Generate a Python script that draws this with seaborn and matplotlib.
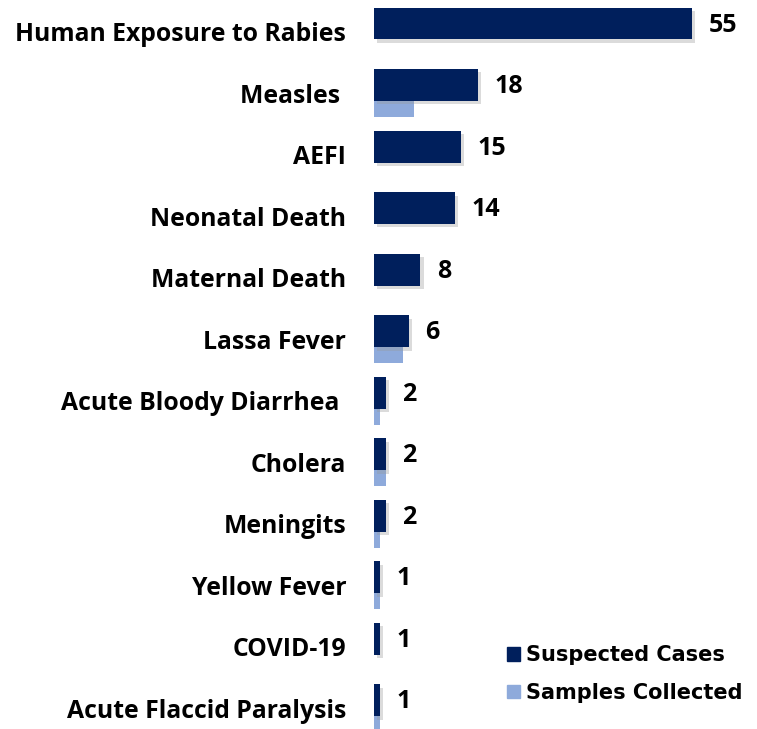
import numpy as np
import pandas as pd
import seaborn as sns
import matplotlib.pyplot as plt
import matplotlib.patheffects as pe
from matplotlib.patches import Patch

diseases = ["Human Exposure to Rabies", "Measles ", "AEFI", "Neonatal Death",
            "Maternal Death", "Lassa Fever", "Acute Bloody Diarrhea ", "Cholera",
            "Meningits", "Yellow Fever", "COVID-19", "Acute Flaccid Paralysis"]
suspected = [55, 18, 15, 14, 8, 6, 2, 2, 2, 1, 1, 1]
samples = [0, 7, 0, 0, 0, 5, 1, 2, 1, 1, 0, 1]

dark = "#001f5c"
light = "#8eaadb"

sns.set_theme(style="white")
plt.rcParams['font.family'] = ['Open Sans', 'DejaVu Sans']
plt.rcParams['font.weight'] = 'bold'
plt.rcParams['text.color'] = 'black'

pos = np.arange(len(diseases))
df = pd.DataFrame({"disease": diseases, "pos": pos,
                   "suspected": suspected, "samples": samples})

fig = plt.figure(figsize=(7.57, 7.29), dpi=100)
ax = fig.add_axes([0.494, 0, 0.506, 1])

# light series sits half a bar lower, dark series drawn on top
sns.barplot(data=df.assign(p=df["pos"] + 0.13), x="samples", y="p", orient="h",
            native_scale=True, color=light, width=0.52, linewidth=0,
            saturation=1, ax=ax, zorder=2)
n_light = len(ax.patches)
sns.barplot(data=df.assign(p=df["pos"] - 0.13), x="suspected", y="p", orient="h",
            native_scale=True, color=dark, width=0.52, linewidth=0,
            saturation=1, ax=ax, zorder=3)

for bar in ax.patches[n_light:]:
    if bar.get_width() > 0:
        bar.set_path_effects([pe.SimplePatchShadow(offset=(2.5, -2.5), shadow_rgbFace="#999999", alpha=0.35),
                              pe.Normal()])

for v, p in zip(suspected, pos):
    ax.text(v + 2.9, p - 0.1, str(v), va="center", ha="left",
            fontsize=18, fontweight="bold", color="black")

ax.set_yticks(pos, diseases, fontweight="bold", color="black", fontsize=17.8)
ax.tick_params(axis="y", length=0, pad=20)
ax.set_xticks([])
ax.set_xlim(0, 66.3)
ax.set_ylim(11.34, -0.512)
ax.set_xlabel("")
ax.set_ylabel("")
sns.despine(ax=ax, left=True, bottom=True)

handles = [Patch(color=dark, label="Suspected Cases"),
           Patch(color=light, label="Samples Collected")]
leg = fig.legend(handles=handles, loc="lower left", bbox_to_anchor=(0.645, 0.01),
                 frameon=False, handlelength=0.6, handleheight=0.6, handletextpad=0.3,
                 labelspacing=0.85, prop={"family": "DejaVu Sans", "weight": "bold", "size": 15})
for t in leg.get_texts():
    t.set_color("black")

fig.savefig("out.png", dpi=100)
